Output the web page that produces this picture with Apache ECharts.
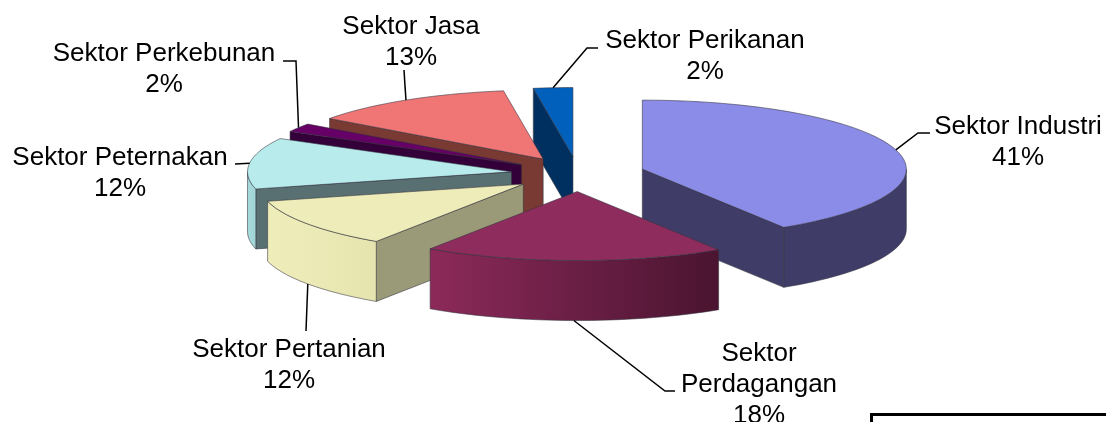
<!DOCTYPE html>
<html>
<head>
<meta charset="utf-8">
<title>Sektor</title>
<script src="https://cdn.jsdelivr.net/npm/echarts@6/dist/echarts.min.js"></script>
<style>
html, body { margin: 0; padding: 0; background: #fff; }
#chart { width: 1106px; height: 422px; }
</style>
</head>
<body>
<div id="chart"></div>
<script>
// data, clockwise from 12 o'clock
// (slice sizes, labels show them rounded)
const sectors = ["Sektor Industri", "Sektor\nPerdagangan", "Sektor Pertanian", "Sektor Peternakan", "Sektor Perkebunan", "Sektor Jasa", "Sektor Perikanan"];
const shares = [41, 18.4, 11.6, 12, 2, 12.6, 2.4];

// colours, same order as sectors
const topColors = ["#8b8be8", "#8e2d5d", "#eeecb8", "#b8ecec", "#660066", "#f07676", "#0060bc"];
const cutColors = ["#3f3d68", "#3f3d68", "#9b9a78", "#587072", "#33003a", "#7a3a34", "#003060"];
const wallColors = [["#3f3d68", "#3f3d68"], ["#8c2a5a", "#4a1430"], ["#efedba", "#e6e4ae"], ["#a8dcdc", "#a0d4d4"], ["#33003a", "#33003a"], ["#7a3a34", "#7a3a34"], ["#003060", "#003060"]];

// label centres and leader bends
const labelPos = [[1018, 142], [759, 385], [289, 365], [120, 173], [164, 69], [411, 42], [705, 56]];
const leaderBends = [[[918, 133], [930, 133]], [[665, 391], [675, 391]], [[306, 331]], [[235, 164]], [[296, 61], [283, 61]], [[404, 70]], [[587, 48], [598, 48]]];

// pie geometry
const cx = 578, cy = 174, rx = 264, ry = 69, depth = 60, explode = 67;
const squash = ry / rx;
const rad = (d) => (d * Math.PI) / 180;

const total = shares.reduce((a, b) => a + b, 0);
const starts = [];
shares.reduce((sum, v, i) => {
  starts[i] = (sum / total) * 360;
  return sum + v;
}, 0);

function apexOf(i) {
  const mid = rad(starts[i] + (shares[i] / total) * 180);
  return [cx + explode * Math.sin(mid), cy - explode * squash * Math.cos(mid)];
}

function rimPoint(apex, deg, drop) {
  return [apex[0] + rx * Math.sin(rad(deg)), apex[1] - ry * Math.cos(rad(deg)) + (drop || 0)];
}

function arcPoints(apex, from, to, drop) {
  const pts = [];
  const n = Math.max(2, Math.ceil((to - from) / 2));
  for (let k = 0; k <= n; k++) {
    pts.push(rimPoint(apex, from + ((to - from) * k) / n, drop));
  }
  return pts;
}

// walls that face the viewer plus top face of one slice
function sliceShapes(i) {
  const from = starts[i];
  const to = from + (shares[i] / total) * 360;
  const apex = apexOf(i);
  const out = [];
  const line = { stroke: "rgba(50,50,60,0.55)", lineWidth: 1 };
  const cutWall = (deg) => {
    const rim = rimPoint(apex, deg);
    out.push({
      type: "polygon",
      shape: { points: [apex, rim, [rim[0], rim[1] + depth], [apex[0], apex[1] + depth]] },
      style: { fill: cutColors[i], ...line },
    });
  };
  if (Math.sin(rad(from)) < 0) cutWall(from);
  if (Math.sin(rad(to)) > 0) cutWall(to);
  const a = Math.max(from, 90);
  const b = Math.min(to, 270);
  if (b > a) {
    const upper = arcPoints(apex, a, b, 0);
    const lower = arcPoints(apex, a, b, depth).reverse();
    out.push({
      type: "polygon",
      shape: { points: upper.concat(lower) },
      style: {
        fill: {
          type: "linear", x: 0, y: 0, x2: 1, y2: 0,
          colorStops: [{ offset: 0, color: wallColors[i][0] }, { offset: 1, color: wallColors[i][1] }],
        },
        ...line,
      },
    });
  }
  out.push({
    type: "polygon",
    shape: { points: [apex].concat(arcPoints(apex, from, to, 0)) },
    style: { fill: topColors[i], ...line },
  });
  return out;
}

function labelShapes(i) {
  const apex = apexOf(i);
  const mid = starts[i] + (shares[i] / total) * 180;
  const front = mid > 90 && mid < 270;
  const from = rimPoint(apex, mid, front ? depth : 0);
  return [
    {
      type: "polyline",
      shape: { points: [from].concat(leaderBends[i]) },
      style: { fill: null, stroke: "#000", lineWidth: 1.5 },
      z2: 5,
    },
    {
      type: "text",
      x: labelPos[i][0],
      y: labelPos[i][1],
      style: {
        text: sectors[i] + "\n" + Math.round(shares[i]) + "%",
        fill: "#000",
        font: '26px "Liberation Sans", Arial, sans-serif',
        lineHeight: 31,
        align: "center",
        verticalAlign: "middle",
      },
      z2: 6,
    },
  ];
}

// paint back to front
const drawOrder = shares.map((v, i) => i).sort((p, q) => apexOf(p)[1] - apexOf(q)[1]);

const chart = echarts.init(document.getElementById("chart"), null, { renderer: "canvas" });
chart.setOption({
  animation: false,
  backgroundColor: "#fff",
  graphic: [
    {
      type: "polyline",
      shape: { points: [[871.5, 424], [871.5, 414.5], [1110, 414.5]] },
      style: { fill: null, stroke: "#000", lineWidth: 3 },
    },
  ],
  series: [
    {
      type: "custom",
      coordinateSystem: "none",
      data: drawOrder.map((i) => [i, shares[i]]),
      renderItem: (params, api) => {
        const i = api.value(0);
        return { type: "group", children: sliceShapes(i) };
      },
    },
    {
      type: "custom",
      coordinateSystem: "none",
      data: shares.map((v, i) => [i, v]),
      renderItem: (params, api) => {
        const i = api.value(0);
        return { type: "group", children: labelShapes(i) };
      },
    },
  ],
});
</script>
</body>
</html>
